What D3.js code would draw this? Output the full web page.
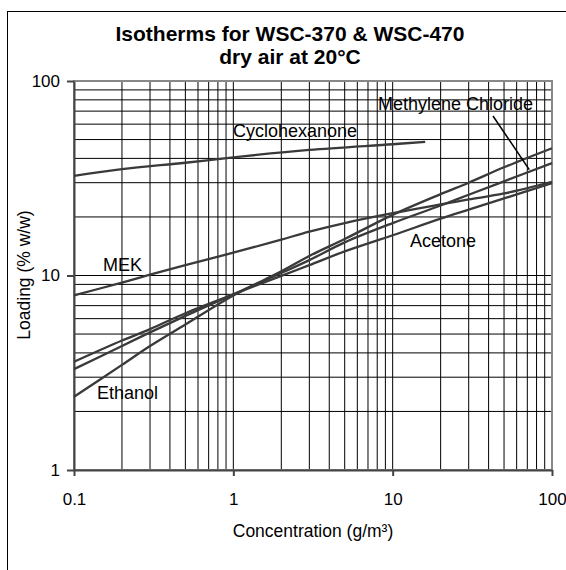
<!doctype html>
<html>
  <head>
    <style>
      body { margin: 0; background: #fff; }
      svg { font-family: 'Liberation Sans', Arial, sans-serif; }
      .grid line { stroke: #000; stroke-width: 1; }
      .curve { fill: none; stroke: #3a3a3a; stroke-width: 2.3; }
      .axis path, .axis line { stroke: #444; stroke-width: 2; }
      .axis text { font-size: 17px; fill: #000; }
    </style>
    <script src="https://d3js.org/d3.v7.min.js"></script>
  </head>
  <body>
    <svg id="chart" width="566" height="570"></svg>
    <script>
      // values
      var concentration = [0.1, 0.2, 0.3, 0.5, 1, 2, 3, 5, 10, 20, 30, 50, 100];
      var ethanol   = [2.38, 3.47, 4.34, 5.6, 7.9, 10.5, 12.6, 15.4, 20.5, 26.2, 30.0, 36.0, 45.1];
      var methylene = [3.3, 4.34, 5.1, 6.2, 8.0, 10.3, 12.0, 14.8, 18.6, 22.9, 26.0, 30.5, 37.8];
      var acetone   = [3.6, 4.63, 5.3, 6.4, 8.0, 9.95, 11.3, 13.3, 16.1, 19.6, 21.8, 24.9, 29.8];
      var mek       = [7.9, 9.2, 10.1, 11.3, 13.1, 15.3, 16.8, 18.6, 20.9, 23.2, 24.6, 26.4, 30.3];
      var cycloConc = [0.1, 0.2, 0.5, 1, 3, 10, 16];
      var cyclohexanone = [32.5, 35.2, 38.0, 40.5, 44.2, 47.3, 48.7];

      var xTicks = [0.1, 1, 10, 100];
      var xTickLabels = ["0.1", "1", "10", "100"];
      var yTicks = [1, 10, 100];
      var yTickLabels = ["1", "10", "100"];

      var svg = d3.select("#chart");

      var x = d3.scaleLog().domain([0.1, 100]).range([74, 552]);
      var y = d3.scaleLog().domain([1, 100]).range([470, 81]);

      // outer frame (runs off the right and bottom edges)
      svg.append("rect")
        .attr("x", 7.5).attr("y", 11.5)
        .attr("width", 620).attr("height", 620)
        .attr("fill", "#fff").attr("stroke", "#000").attr("stroke-width", 1);

      svg.append("text")
        .attr("x", 290).attr("y", 41)
        .attr("text-anchor", "middle")
        .style("font-size", "21px").style("font-weight", "bold")
        .text("Isotherms for WSC-370 & WSC-470");
      svg.append("text")
        .attr("x", 290).attr("y", 64)
        .attr("text-anchor", "middle")
        .style("font-size", "21px").style("font-weight", "bold")
        .text("dry air at 20°C");

      // grid: every 1..9 of each decade
      var xGrid = [], yGrid = [];
      [0.1, 1, 10].forEach(function(d){
        for (var k = 1; k <= 9; k++) xGrid.push(d * k);
      });
      [1, 10].forEach(function(d){
        for (var k = 1; k <= 9; k++) yGrid.push(d * k);
      });

      var grid = svg.append("g").attr("class", "grid");
      grid.selectAll(".vx").data(xGrid.slice(1)).enter().append("line")
        .attr("x1", function(d){ return x(d); }).attr("x2", function(d){ return x(d); })
        .attr("y1", y(1)).attr("y2", y(100));
      grid.selectAll(".hy").data(yGrid.slice(1)).enter().append("line")
        .attr("y1", function(d){ return y(d); }).attr("y2", function(d){ return y(d); })
        .attr("x1", x(0.1)).attr("x2", x(100));

      // plot border
      svg.append("rect")
        .attr("x", x(0.1)).attr("y", y(100))
        .attr("width", x(100) - x(0.1)).attr("height", y(1) - y(100))
        .attr("fill", "none").attr("stroke", "#888").attr("stroke-width", 2);

      // axes
      svg.append("g").attr("class", "axis")
        .attr("transform", "translate(0," + y(1) + ")")
        .call(d3.axisBottom(x).tickValues(xTicks)
              .tickFormat(function(d, i){ return xTickLabels[i]; })
              .tickSize(6).tickSizeOuter(0).tickPadding(17));
      svg.append("g").attr("class", "axis")
        .attr("transform", "translate(" + x(0.1) + ",0)")
        .call(d3.axisLeft(y).tickValues(yTicks)
              .tickFormat(function(d, i){ return yTickLabels[i]; })
              .tickSize(7).tickSizeOuter(0).tickPadding(7));

      svg.append("text")
        .attr("x", 313).attr("y", 537)
        .attr("text-anchor", "middle")
        .style("font-size", "17.5px")
        .text("Concentration (g/m³)");
      svg.append("text")
        .attr("transform", "translate(30,275) rotate(-90)")
        .attr("text-anchor", "middle")
        .style("font-size", "17.5px")
        .text("Loading (% w/w)");

      // curves
      var line = d3.line()
        .x(function(d){ return x(d[0]); })
        .y(function(d){ return y(d[1]); })
        .curve(d3.curveCatmullRom.alpha(0.5));

      var series = [
        d3.zip(concentration, ethanol),
        d3.zip(concentration, methylene),
        d3.zip(concentration, acetone),
        d3.zip(concentration, mek),
        d3.zip(cycloConc, cyclohexanone)
      ];
      svg.selectAll(".curve").data(series).enter().append("path")
        .attr("class", "curve")
        .attr("d", line);

      // curve labels
      var labels = [
        {t: "Cyclohexanone", x: 233, y: 137},
        {t: "Methylene Chloride", x: 378, y: 110},
        {t: "MEK", x: 103, y: 271},
        {t: "Acetone", x: 410, y: 247},
        {t: "Ethanol", x: 97, y: 399}
      ];
      svg.selectAll(".lbl").data(labels).enter().append("text")
        .attr("x", function(d){ return d.x; })
        .attr("y", function(d){ return d.y; })
        .style("font-size", "18px")
        .text(function(d){ return d.t; });

      // leader from Methylene Chloride label to its curve
      svg.append("line")
        .attr("x1", 493).attr("y1", 116)
        .attr("x2", x(72)).attr("y2", y(35))
        .attr("stroke", "#000").attr("stroke-width", 1.5);
    </script>
  </body>
</html>
